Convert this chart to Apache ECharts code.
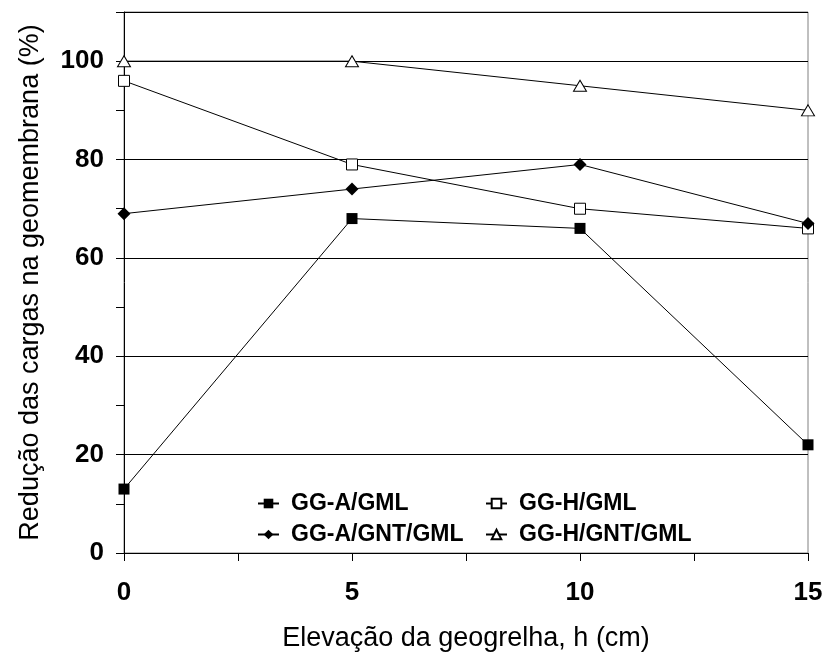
<!DOCTYPE html>
<html>
<head>
<meta charset="utf-8">
<script src="https://cdn.jsdelivr.net/npm/echarts@6/dist/echarts.min.js"></script>
<style>
html,body{margin:0;padding:0;background:#fff;}
#main{width:828px;height:657px;}
</style>
</head>
<body>
<div id="main"></div>
<script>
// elevação da geogrelha h (cm)
var elevacao = [0, 5, 10, 15];
// redução das cargas (%)
var ggaGml = [13, 68, 66, 22];
var gghGml = [96, 79, 70, 66];
var ggaGntGml = [69, 74, 79, 67];
var gghGntGml = [100, 100, 95, 90];
var yLabels = [0, 20, 40, 60, 80, 100];
var xLabels = [0, 5, 10, 15];

function pts(ys){
    return elevacao.map(function(x, i){ return [x, ys[i]]; });
}

var font = 'Liberation Sans, Arial, sans-serif';

var chart = echarts.init(document.getElementById('main'));
var option = {
    backgroundColor: '#fff',
    animation: false,
    grid: {
        left: 124, right: 20, top: 12, bottom: 103,
        show: true, borderColor: '#808080', borderWidth: 1
    },
    legend: [
        {
            orient: 'vertical', left: 252, top: 487, itemGap: 8,
            itemWidth: 21, itemHeight: 12,
            data: ['GG-A/GML', 'GG-A/GNT/GML'],
            textStyle: {fontFamily: font, fontSize: 23, fontWeight: 'bold', color: '#000', padding: [0, 0, 0, 7]}
        },
        {
            orient: 'vertical', left: 480, top: 487, itemGap: 8,
            itemWidth: 21, itemHeight: 12,
            data: ['GG-H/GML', 'GG-H/GNT/GML'],
            textStyle: {fontFamily: font, fontSize: 23, fontWeight: 'bold', color: '#000', padding: [0, 0, 0, 7]}
        }
    ],
    xAxis: {
        type: 'value', min: 0, max: 15, interval: 2.5,
        name: 'Elevação da geogrelha, h (cm)',
        nameLocation: 'middle', nameGap: 72,
        nameTextStyle: {fontFamily: font, fontSize: 27, color: '#000'},
        axisLine: {onZero: false, lineStyle: {color: '#000', width: 1}},
        axisTick: {length: 8, lineStyle: {color: '#000'}},
        axisLabel: {
            margin: 27, fontFamily: font, fontSize: 26, fontWeight: 'bold', color: '#000',
            formatter: function(v){ return xLabels.indexOf(v) >= 0 ? String(v) : ''; }
        },
        splitLine: {show: false}
    },
    yAxis: [
        {
            type: 'value', min: 0, max: 110, interval: 10,
            name: 'Redução das cargas na geomembrana (%)',
            nameLocation: 'middle', nameGap: 80,
            nameTextStyle: {fontFamily: font, fontSize: 27, color: '#000'},
            axisLine: {show: true, lineStyle: {color: '#000', width: 1}},
            axisTick: {show: true, length: 8, lineStyle: {color: '#000'}},
            axisLabel: {
                margin: 20, fontFamily: font, fontSize: 26, fontWeight: 'bold', color: '#000',
                formatter: function(v){ return yLabels.indexOf(v) >= 0 ? String(v) : ''; }
            },
            splitLine: {show: false}
        },
        {
            // only for the horizontal grid lines every 20
            type: 'value', min: 0, max: 110, interval: 20, position: 'left',
            axisLine: {show: false}, axisTick: {show: false}, axisLabel: {show: false},
            splitLine: {show: true, lineStyle: {color: '#000', width: 1}}
        }
    ],
    series: [
        {
            name: 'GG-A/GML', type: 'line', data: pts(ggaGml),
            symbol: 'rect', symbolSize: 11,
            lineStyle: {color: '#000', width: 1},
            itemStyle: {color: '#000'}
        },
        {
            name: 'GG-H/GML', type: 'line', data: pts(gghGml),
            symbol: 'rect', symbolSize: 11,
            lineStyle: {color: '#000', width: 1},
            itemStyle: {color: '#fff', borderColor: '#000', borderWidth: 1}
        },
        {
            name: 'GG-A/GNT/GML', type: 'line', data: pts(ggaGntGml),
            symbol: 'diamond', symbolSize: [13, 13],
            lineStyle: {color: '#000', width: 1},
            itemStyle: {color: '#000'}
        },
        {
            name: 'GG-H/GNT/GML', type: 'line', data: pts(gghGntGml),
            symbol: 'triangle', symbolSize: [13, 11],
            lineStyle: {color: '#000', width: 1},
            itemStyle: {color: '#fff', borderColor: '#000', borderWidth: 1}
        }
    ]
};
chart.setOption(option);
</script>
</body>
</html>
